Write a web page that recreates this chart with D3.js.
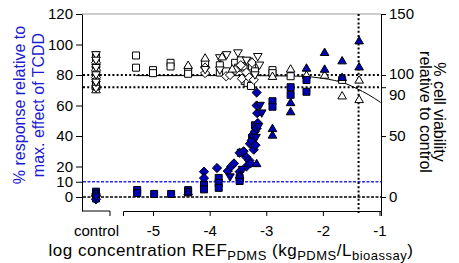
<!DOCTYPE html>
<html><head><meta charset="utf-8">
<script src="https://cdn.jsdelivr.net/npm/d3@7"></script>
<style>body{margin:0;background:#fff}svg{display:block;font-family:"Liberation Sans",Arial,sans-serif}</style>
</head><body><svg id="c" width="459" height="263"></svg>
<script>
// ---- data ----
const xTicks = [-5, -4, -3, -2, -1];
const leftTicks = [0, 10, 20, 40, 60, 80, 100, 120];
const rightTicks = [0, 50, 90, 100, 150];
const controlLabel = ["control"];

// cell viability (% of control, right axis), open markers: [logConc, value]
const viabSquares = [[-5.30,116],[-5.30,106],[-5.00,104],[-5.00,101.5],[-4.69,110],[-4.69,107],[-4.38,104],[-4.38,101],
  [-4.08,110],[-3.82,108],[-3.82,102],[-3.71,103],[-3.55,110],[-3.50,106],[-3.45,112],[-3.40,107],[-3.30,111],[-3.25,107],
  [-3.20,103],[-3.38,95],[-3.33,93.5],[-3.27,91],[-2.89,104],[-2.89,101.5],[-2.57,99],[-1.66,96]];
const viabTriUp = [[-4.38,108],[-4.08,114],[-3.78,115],[-3.60,105],[-2.89,99],[-2.57,105],[-2.29,100],[-1.97,100],
  [-1.66,83],[-1.36,96],[-1.36,80]];
const viabTriDown = [[-4.08,104.3],[-3.82,114],[-3.82,104],[-3.70,116.5],[-3.50,118],[-3.35,112],[-3.15,115],[-3.12,108],[-3.20,100]];
const viabDiamonds = [[-4.08,106],[-4.08,101.6],[-3.71,99],[-3.64,100],[-3.55,104],[-3.45,108],[-3.35,102],[-3.25,110],
  [-3.43,97],[-3.30,98],[-3.22,96]];

// response relative to max. effect of TCDD (%, left axis), blue markers
const respSquares = [[-5.28,4.6],[-5.28,2.6],[-4.98,2],[-4.68,2],[-4.38,4.5],[-4.38,3],[-4.10,8.2],[-4.10,5],[-3.84,12.5],
  [-3.84,9.2],[-3.84,6],[-3.47,12.5],[-3.47,10.5],[-3.45,29],[-3.25,38],[-3.20,47],[-2.89,62.8],[-2.89,59.2],[-2.57,72],
  [-2.57,67],[-2.29,76.7],[-2.29,69]];
const respDiamonds = [[-4.10,16.6],[-4.10,12.4],[-3.87,19],[-3.68,17],[-3.62,20],[-3.57,22],[-3.47,16.6],[-3.47,29],[-3.40,30],
  [-3.35,26],[-3.30,24],[-3.29,35],[-3.26,37],[-3.24,40.7],[-3.20,43],[-3.17,45],[-3.15,48.5],[-3.16,55],[-3.17,60],[-3.17,68.5],
  [-3.35,20],[-3.28,22],[-3.22,31],[-3.19,34]];
const respTriDown = [[-3.64,13.1],[-3.42,18],[-3.11,60],[-3.08,55],[-3.18,39],[-3.14,46]];
const respTriUp = [[-4.38,3.5],[-3.47,14.4],[-3.17,22],[-2.89,45],[-2.89,40.7],[-2.57,62],[-2.57,56],[-2.29,84.6],
  [-1.97,94.9],[-1.97,83.9],[-1.66,89.4],[-1.66,78.5],[-1.36,102.5],[-1.36,85.4]];

// controls
const ctrlViabSquares = [116,114.5,113,111.5,110,108.5,107,105.5,104,102.5,101,99.5,98,96.5,95,93.5,92,90.5];
const ctrlViabTriUp = [88,91,97,103,109];
const ctrlViabTriDown = [116.5,89,94,100,106,112];
const ctrlViabDiamonds = [98,104,110];
const ctrlRespSquares = [3.5,2,0.5,-1];
const ctrlRespDiamonds = [1,-1.5];
const ctrlRespTriUp = [2.5];
const ctrlRespTriDown = [0];

// viability fit curve
const fitX = [-5.3,-4.0,-3.0,-2.5,-2.2,-2.0,-1.8,-1.6,-1.4,-1.2,-0.98];
const fitY = [99.5,99.5,99.4,99.1,98.4,97.2,95.6,93.0,88.8,84.0,77.5];

// reference lines
const viabRefLines = [100, 90];   // right axis, dotted
const respRefLine10 = 10;         // left axis, blue dashed
const respRefLine0 = 0;           // left axis, black dashed
const concRefLine = -1.37;        // dotted vertical

// ---- drawing ----
const svg = d3.select("#c");
const blue = "#0000b4";
const textBlue = "#1a1ad0";

const x = d3.scaleLinear().domain([-5.53, -0.974]).range([123, 381]);
const xc = d3.scalePoint().domain(controlLabel).range([82, 110]).padding(0.5);
const yL = d3.scaleLinear().domain([-9.18, 120]).range([211, 14]);
const yR = d3.scaleLinear().domain([-11.475, 150]).range([211, 14]);

// reference lines
svg.append("line").attr("x1", 82).attr("x2", 381).attr("y1", 14).attr("y2", 14)
  .attr("stroke", "#999").attr("stroke-width", 1);

viabRefLines.forEach(v => {
  svg.append("line").attr("x1", 83).attr("x2", 381).attr("y1", yR(v)).attr("y2", yR(v))
    .attr("stroke", "#000").attr("stroke-width", 2).attr("stroke-dasharray", "2,2.2");
});
svg.append("line").attr("x1", 83).attr("x2", 381).attr("y1", yL(respRefLine10)).attr("y2", yL(respRefLine10))
  .attr("stroke", "#2a2ae0").attr("stroke-width", 1.6).attr("stroke-dasharray", "3,1.5");
svg.append("line").attr("x1", 83).attr("x2", 381).attr("y1", yL(respRefLine0)).attr("y2", yL(respRefLine0))
  .attr("stroke", "#000").attr("stroke-width", 1.6).attr("stroke-dasharray", "3,1.5");
svg.append("line").attr("x1", x(concRefLine)).attr("x2", x(concRefLine)).attr("y1", 14).attr("y2", 213)
  .attr("stroke", "#000").attr("stroke-width", 2).attr("stroke-dasharray", "2,2.2");

// fit curve
const fitData = fitX.map((d, i) => [d, fitY[i]]);
svg.append("path").datum(fitData)
  .attr("d", d3.line().x(d => x(d[0])).y(d => yR(d[1])).curve(d3.curveMonotoneX))
  .attr("fill", "none").attr("stroke", "#000").attr("stroke-width", 1);

// marker shapes
const shapes = {
  square: (cx, cy) => `M${cx-3.5},${cy-3.5}h7v7h-7Z`,
  triUp: (cx, cy) => `M${cx},${cy-4.2}L${cx+4.3},${cy+3.2}L${cx-4.3},${cy+3.2}Z`,
  triDown: (cx, cy) => `M${cx},${cy+4.2}L${cx+4.3},${cy-3.2}L${cx-4.3},${cy-3.2}Z`,
  diamond: (cx, cy) => `M${cx},${cy-4.6}L${cx+4.6},${cy}L${cx},${cy+4.6}L${cx-4.6},${cy}Z`
};
function drawPts(data, shape, fill, yScale) {
  svg.append("g").selectAll("path").data(data).join("path")
    .attr("d", d => shapes[shape](x(d[0]), yScale(d[1])))
    .attr("fill", fill).attr("stroke", "#000").attr("stroke-width", 1);
}
function drawCtrl(vals, shape, fill, yScale) {
  svg.append("g").selectAll("path").data(vals).join("path")
    .attr("d", d => shapes[shape](xc("control"), yScale(d)))
    .attr("fill", fill).attr("stroke", "#000").attr("stroke-width", 1);
}

drawCtrl(ctrlViabSquares, "square", "#fff", yR);
drawCtrl(ctrlViabDiamonds, "diamond", "#fff", yR);
drawCtrl(ctrlViabTriUp, "triUp", "#fff", yR);
drawCtrl(ctrlViabTriDown, "triDown", "#fff", yR);
drawPts(viabSquares, "square", "#fff", yR);
drawPts(viabDiamonds, "diamond", "#fff", yR);
drawPts(viabTriDown, "triDown", "#fff", yR);
drawPts(viabTriUp, "triUp", "#fff", yR);

drawCtrl(ctrlRespSquares, "square", blue, yL);
drawCtrl(ctrlRespDiamonds, "diamond", blue, yL);
drawCtrl(ctrlRespTriUp, "triUp", blue, yL);
drawCtrl(ctrlRespTriDown, "triDown", blue, yL);
drawPts(respSquares, "square", blue, yL);
drawPts(respDiamonds, "diamond", blue, yL);
drawPts(respTriDown, "triDown", blue, yL);
drawPts(respTriUp, "triUp", blue, yL);

// axes
const fmt = d => String(d);
const gl = svg.append("g").attr("transform", "translate(82,0)")
  .call(d3.axisLeft(yL).tickValues(leftTicks).tickFormat(fmt).tickSizeInner(6).tickSizeOuter(0).tickPadding(3));
const gr = svg.append("g").attr("transform", "translate(381,0)")
  .call(d3.axisRight(yR).tickValues(rightTicks).tickFormat(fmt).tickSizeInner(5).tickSizeOuter(0).tickPadding(3));
const gb = svg.append("g").attr("transform", "translate(0,211)")
  .call(d3.axisBottom(x).tickValues(xTicks).tickFormat(fmt).tickSizeInner(5).tickSizeOuter(5).tickPadding(9.5));
const gc = svg.append("g").attr("transform", "translate(0,211)")
  .call(d3.axisBottom(xc).tickSizeInner(0).tickSizeOuter(5).tickPadding(14.5));
gc.select(".domain").attr("d", `M82,0H110V5`);
[gl, gr, gb, gc].forEach(g => {
  g.selectAll("text").attr("font-size", 15).attr("fill", "#000").attr("font-family", '"Liberation Sans",Arial,sans-serif');
  g.selectAll("line,path").attr("stroke", "#000");
});
gr.selectAll(".tick").filter(d => d === 90).select("text").attr("dy", "0.85em");
gr.selectAll(".tick").filter(d => d === 100).select("text").attr("dy", "0.2em");

// axis titles
svg.append("text").attr("transform", "translate(25,105) rotate(-90)")
  .attr("text-anchor", "middle").attr("font-size", 16).attr("fill", textBlue).text("% response relative to");
svg.append("text").attr("transform", "translate(44,105) rotate(-90)")
  .attr("text-anchor", "middle").attr("font-size", 16).attr("fill", textBlue).text("max. effect of TCDD");

svg.append("text").attr("transform", "translate(434,112) rotate(90)")
  .attr("text-anchor", "middle").attr("font-size", 16).attr("fill", "#000").text("% cell viability");
svg.append("text").attr("transform", "translate(420,112) rotate(90)")
  .attr("text-anchor", "middle").attr("font-size", 16).attr("fill", "#000").text("relative to control");

const xt = svg.append("text").attr("x", 231).attr("y", 256).attr("text-anchor", "middle")
  .attr("font-size", 17).attr("letter-spacing", 0.5).attr("fill", "#000");
xt.append("tspan").text("log concentration REF");
xt.append("tspan").attr("font-size", 13).attr("dy", 3.5).text("PDMS");
xt.append("tspan").attr("dy", -3.5).text(" (kg");
xt.append("tspan").attr("font-size", 13).attr("dy", 3.5).text("PDMS");
xt.append("tspan").attr("dy", -3.5).text("/L");
xt.append("tspan").attr("font-size", 13).attr("dy", 3.5).text("bioassay");
xt.append("tspan").attr("dy", -3.5).text(")");
</script></body></html>
